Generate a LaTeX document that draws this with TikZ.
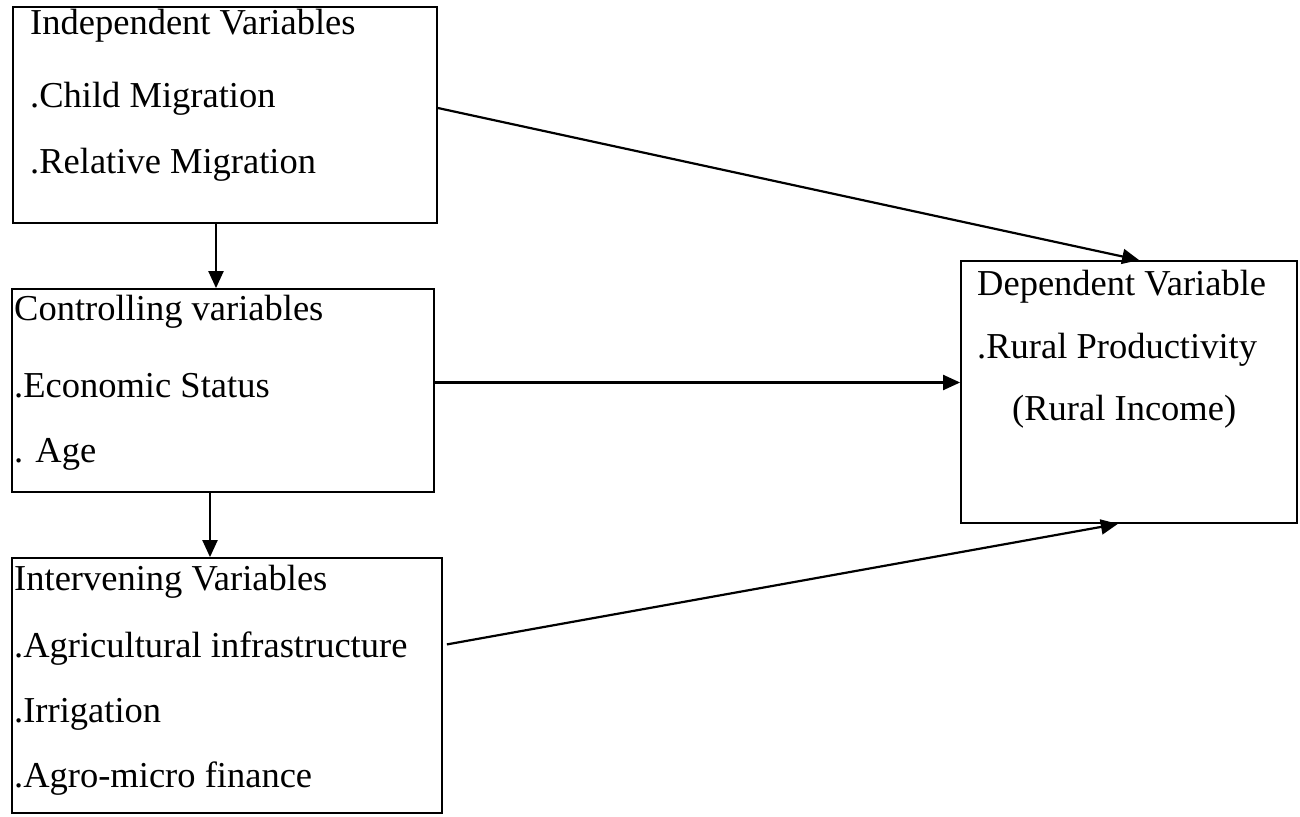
\documentclass[tikz,border=0pt]{standalone}
\usepackage{fontspec}
\setmainfont{Liberation Serif}
\usetikzlibrary{arrows.meta,calc}
\begin{document}
\begin{tikzpicture}[x=1pt,y=-1pt,
  box/.style={draw, line width=1.8pt, inner sep=0pt, rectangle},
  txt/.style={inner sep=0pt, anchor=base west, font=\fontsize{36.5}{42}\selectfont},
  conn/.style={line width=2.2pt, -{Triangle[length=17pt,width=15pt]}}]
\useasboundingbox (0,0) rectangle (1300,816);
\fill[white] (0,0) rectangle (1300,816);
% boxes
\node[box, minimum width=424pt, minimum height=216pt] (b1) at (225,115) {};
\node[box, minimum width=422pt, minimum height=203pt] (b2) at (223,390.5) {};
\node[box, minimum width=430pt, minimum height=255pt] (b3) at (227,685.5) {};
\node[box, minimum width=336pt, minimum height=262pt] (b4) at (1129,392) {};
% texts
\node[txt] (t11) at (30,35) {Independent Variables};
\node[txt] (t12) at (30,107) {.Child Migration};
\node[txt] (t13) at (30,173) {.Relative Migration};
\node[txt] (t21) at (14,320) {Controlling variables};
\node[txt] (t22) at (14,397) {.Economic Status};
\node[txt] (t23) at (14,462) {. Age};
\node[txt] (t31) at (14,590) {Intervening Variables};
\node[txt] (t32) at (14,657) {.Agricultural infrastructure};
\node[txt] (t33) at (14,722) {.Irrigation};
\node[txt] (t34) at (14,787) {.Agro-micro finance};
\node[txt] (t41) at (977,295) {Dependent Variable};
\node[txt] (t42) at (977,358) {.Rural Productivity};
\node[txt] (t43) at (1012,420) {(Rural Income)};
% connectors
\draw[conn] ([yshift=7pt]b1.east) -- ($(b4.north west)!0.53!(b4.north east)$);
\draw[conn] ([xshift=-9pt]b1.south) -- ([xshift=-9pt]b1.south |- b2.north);
\draw[conn] ([yshift=8pt]b2.east) -- ([yshift=8pt]b2.east -| b4.west);
\draw[conn] ([xshift=-13pt]b2.south) -- ([xshift=-13pt]b2.south |- b3.north);
\draw[conn] ([xshift=4pt]$(b3.north east)!0.34!(b3.south east)$) -- ($(b4.south west)!0.467!(b4.south east)$);
\end{tikzpicture}
\end{document}
